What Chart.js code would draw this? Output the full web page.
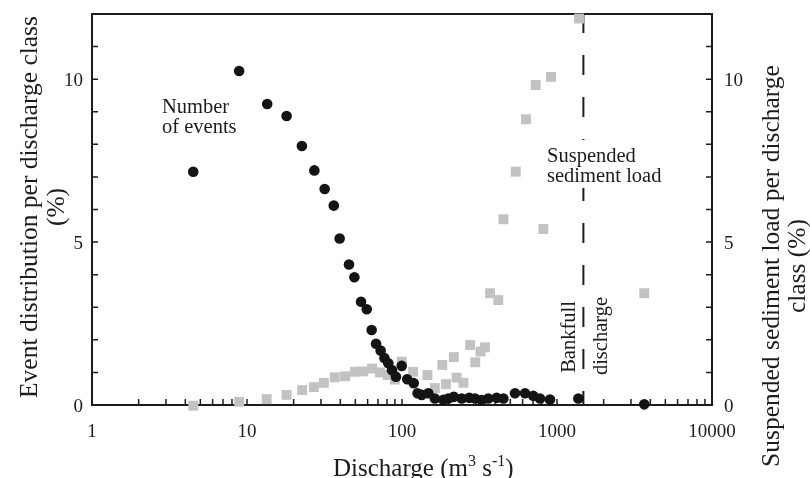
<!DOCTYPE html>
<html>
<head>
<meta charset="utf-8">
<script src="https://cdn.jsdelivr.net/npm/chart.js@4"></script>
<style>
html,body{margin:0;padding:0;background:#fff;}
</style>
</head>
<body>
<canvas id="dischargeChart" width="810" height="478"></canvas>
<script>
// discharge (m3 s-1) and % per discharge class
const eventQ = [4.5, 8.9, 13.5, 18.0, 22.6, 27.2, 31.7, 36.3, 39.6, 45.5, 49.3, 54.4, 59.2, 63.7, 68, 72.8, 77, 81.6, 86.2, 91.4,
  99.6, 108, 119, 126, 134, 148, 163, 185, 199, 216, 243, 272, 296, 327, 360, 408, 451, 536, 622, 703, 777, 901, 1373, 3656];
const eventPct = [7.16, 10.25, 9.24, 8.87, 7.95, 7.2, 6.63, 6.12, 5.11, 4.31, 3.92, 3.17, 2.94, 2.30, 1.88, 1.67, 1.44, 1.28, 1.07, 0.87,
  1.20, 0.79, 0.67, 0.36, 0.31, 0.36, 0.2, 0.16, 0.2, 0.25, 0.2, 0.22, 0.2, 0.15, 0.2, 0.22, 0.2, 0.36, 0.36, 0.28, 0.2, 0.17, 0.2, 0.02];

const loadQ = [4.5, 8.9, 13.4, 18.0, 22.7, 27.0, 31.3, 36.8, 42.9, 49.7, 56.2, 64.1, 72, 81, 90, 99.6, 118,
  146, 163, 182, 192, 216, 225, 249, 275, 297, 321, 343, 370, 418, 451, 542, 631, 729, 816, 915, 1387, 3656];
const loadPct = [-0.02, 0.1, 0.18, 0.31, 0.46, 0.55, 0.68, 0.85, 0.88, 1.02, 1.03, 1.12, 1.0, 0.92, 0.78, 1.33, 1.02,
  0.92, 0.52, 1.23, 0.64, 1.47, 0.84, 0.68, 1.84, 1.31, 1.64, 1.77, 3.43, 3.22, 5.70, 7.16, 8.77, 9.82, 5.40, 10.07, 11.86, 3.43];

const bankfullQ = 1480;
const yTicks = [0, 5, 10];
const xTicks = [1, 10, 100, 1000, 10000];

const serif = '"Liberation Serif", "Times New Roman", serif';
const ink = '#1c1c1c';

function rotatedLines(ctx, cx, cy, lines, gap) {
    ctx.save();
    ctx.translate(cx, cy);
    ctx.rotate(-Math.PI / 2);
    ctx.textAlign = "center";
    lines.forEach(function (t, i) { ctx.fillText(t, 0, i * gap); });
    ctx.restore();
}

const framePlugin = {
    id: "frame",
    beforeDatasetsDraw(chart) {
        const ctx = chart.ctx, a = chart.chartArea;
        const x = chart.scales.x, y = chart.scales.y, y2 = chart.scales.y2;
        ctx.save();
        ctx.strokeStyle = ink;
        ctx.fillStyle = ink;

        // frame
        ctx.lineWidth = 2;
        ctx.strokeRect(a.left, a.top, a.right - a.left, a.bottom - a.top);

        // inward ticks
        ctx.lineWidth = 1.5;
        ctx.beginPath();
        for (let v = 1; v < 12; v++) {
            let py = y.getPixelForValue(v);
            ctx.moveTo(a.left, py); ctx.lineTo(a.left + 6, py);
            py = y2.getPixelForValue(v);
            ctx.moveTo(a.right, py); ctx.lineTo(a.right - 6, py);
        }
        for (let d = 1; d < 10000; d *= 10) {
            for (let k = 2; k <= 10; k++) {
                const px = x.getPixelForValue(k * d);
                ctx.moveTo(px, a.bottom); ctx.lineTo(px, a.bottom - 6);
            }
        }
        ctx.stroke();

        // bankfull line
        const bx = x.getPixelForValue(bankfullQ);
        ctx.lineWidth = 2;
        ctx.setLineDash([20, 22]);
        ctx.lineDashOffset = 1;
        ctx.beginPath();
        ctx.moveTo(bx, a.top); ctx.lineTo(bx, a.bottom);
        ctx.stroke();
        ctx.setLineDash([]);

        // tick labels
        ctx.font = "19px " + serif;
        ctx.textAlign = "right";
        yTicks.forEach(function (v) { ctx.fillText(String(v), a.left - 9, y.getPixelForValue(v) + 6.5); });
        ctx.textAlign = "left";
        yTicks.forEach(function (v) { ctx.fillText(String(v), a.right + 12, y2.getPixelForValue(v) + 6.5); });
        ctx.textAlign = "center";
        xTicks.forEach(function (v) { ctx.fillText(String(v), x.getPixelForValue(v), a.bottom + 32); });

        // annotations
        ctx.font = "20.5px " + serif;
        ctx.textAlign = "left";
        ctx.fillText("Number", 162, 113);
        ctx.fillText("of events", 162, 133);
        ctx.fillStyle = "#fff";
        ctx.fillRect(543, 140, 128, 48);
        ctx.fillStyle = ink;
        ctx.fillText("Suspended", 547, 162);
        ctx.fillText("sediment load", 547, 182);
        rotatedLines(ctx, 575, 337, ["Bankfull"], 0);
        rotatedLines(ctx, 607, 336, ["discharge"], 0);

        // axis titles
        ctx.font = "25.5px " + serif;
        ctx.textBaseline = "middle";
        rotatedLines(ctx, 30, 207, ["Event distribution per discharge class", "(%)"], 27);
        rotatedLines(ctx, 772, 266, ["Suspended sediment load per discharge", "class (%)"], 26);
        ctx.textBaseline = "alphabetic";
        ctx.textAlign = "left";
        let tx = 333;
        const ty = 476;
        const parts = [["Discharge (m", 0], ["3", 1], [" s", 0], ["-1", 1], [")", 0]];
        parts.forEach(function (p) {
            ctx.font = (p[1] ? "16px " : "25px ") + serif;
            ctx.fillText(p[0], tx, p[1] ? ty - 10 : ty);
            tx += ctx.measureText(p[0]).width;
        });
        ctx.restore();
    }
};

new Chart(document.getElementById("dischargeChart"), {
    type: "scatter",
    data: {
        datasets: [{
            label: "Number of events",
            data: eventQ.map(function (q, i) { return { x: q, y: eventPct[i] }; }),
            pointStyle: "circle",
            pointRadius: 5.3,
            pointBorderWidth: 0,
            backgroundColor: "#141414",
            borderColor: "#141414",
            yAxisID: "y",
            clip: false
        }, {
            label: "Suspended sediment load",
            data: loadQ.map(function (q, i) { return { x: q, y: loadPct[i] }; }),
            pointStyle: "rect",
            pointRadius: 7,
            pointBorderWidth: 0,
            backgroundColor: "#c2c2c2",
            borderColor: "#c2c2c2",
            yAxisID: "y2",
            clip: false
        }]
    },
    options: {
        responsive: false,
        animation: false,
        events: [],
        devicePixelRatio: 1,
        layout: { padding: { left: 92, right: 98, top: 14, bottom: 73 } },
        plugins: { legend: { display: false }, tooltip: { enabled: false } },
        scales: {
            x: { type: "logarithmic", min: 1, max: 10000, display: false },
            y: { min: 0, max: 12, display: false },
            y2: { min: 0, max: 12, display: false, position: "right" }
        }
    },
    plugins: [framePlugin]
});
</script>
</body>
</html>
